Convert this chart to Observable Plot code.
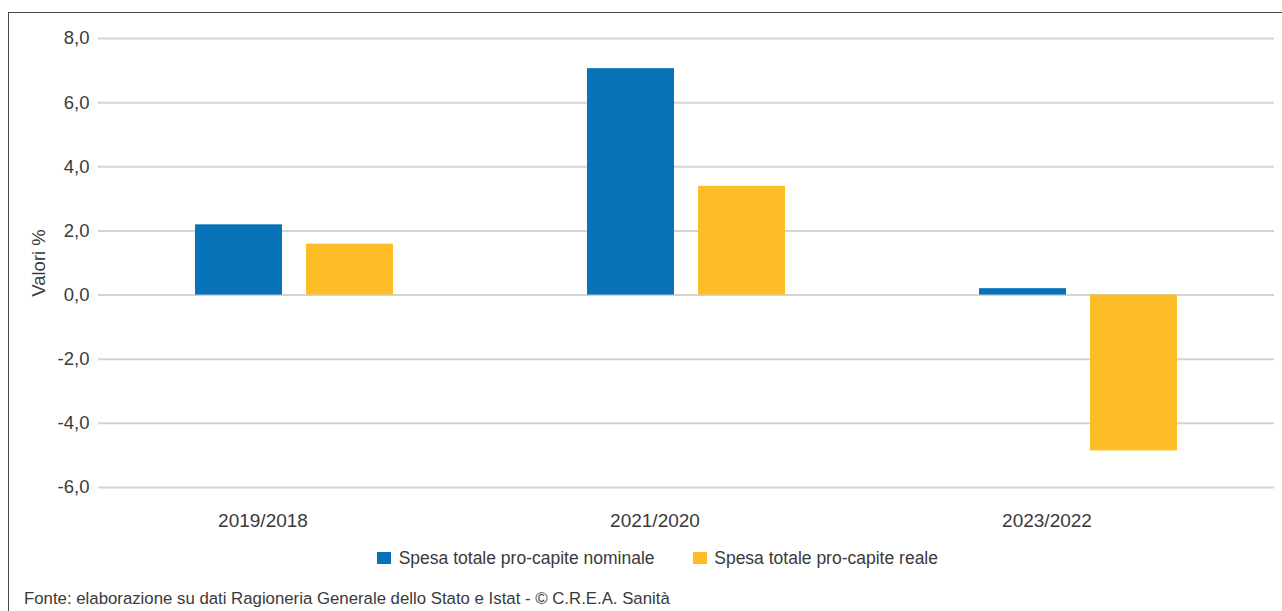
<!DOCTYPE html>
<html>
<head>
<meta charset="utf-8">
<script src="https://cdn.jsdelivr.net/npm/d3@7"></script>
<script src="https://cdn.jsdelivr.net/npm/@observablehq/plot@0.6"></script>
<style>
  html, body { margin: 0; padding: 0; background: #fff; overflow: hidden; }
  #wrap { position: relative; width: 1282px; height: 611px; overflow: hidden;
          font-family: "Liberation Sans", Arial, sans-serif; color: #3a3a3a; }
  #frame { position: absolute; left: 8px; top: 12px; width: 1300px; height: 620px;
           border-top: 1.5px solid #4a4a4a; border-left: 1.5px solid #4a4a4a; }
  #chart { position: absolute; left: 0; top: 0; }
  #legend { position: absolute; left: 377px; top: 548px; display: flex; align-items: center;
            font-size: 17.5px; line-height: 20px; white-space: nowrap; }
  .item { display: flex; align-items: center; margin-right: 38px; }
  .sw { width: 14.4px; height: 11.7px; margin-right: 7.3px; }
  #caption { position: absolute; left: 24px; top: 589px; font-size: 16.8px; line-height: 20px; white-space: nowrap; }
</style>
</head>
<body>
<div id="wrap">
  <div id="frame"></div>
  <div id="chart"></div>
  <div id="legend"></div>
  <div id="caption">Fonte: elaborazione su dati Ragioneria Generale dello Stato e Istat - © C.R.E.A. Sanità</div>
</div>
<script>
const categories = ["2019/2018", "2021/2020", "2023/2022"];
const seriesNames = ["Spesa totale pro-capite nominale", "Spesa totale pro-capite reale"];
const nominale = [2.19, 7.06, 0.20];
const reale = [1.59, 3.39, -4.86];
const seriesColors = ["#0872b9", "#fdbd26"];
const yTicks = [-6, -4, -2, 0, 2, 4, 6, 8];

const data = [];
categories.forEach((c, i) => {
  data.push({cat: c, serie: seriesNames[0], value: nominale[i]});
  data.push({cat: c, serie: seriesNames[1], value: reale[i]});
});

const fmt = d => d.toFixed(1).replace(".", ",");

const chart = Plot.plot({
  width: 1282,
  height: 535,
  marginTop: 38,
  marginBottom: 48,
  marginLeft: 98,
  marginRight: 8,
  style: {fontFamily: '"Liberation Sans", Arial, sans-serif', color: "#3a3a3a", background: "transparent"},
  fx: {domain: categories, padding: 0, label: null},
  x: {domain: seriesNames, paddingInner: 0.215, paddingOuter: 0.863, axis: null},
  y: {domain: [-6, 8], label: null},
  color: {domain: seriesNames, range: seriesColors},
  marks: [
    Plot.ruleY(yTicks, {stroke: "#d4d4d4", strokeWidth: 2}),
    Plot.barY(data, {fx: "cat", x: "serie", y1: 0, y2: "value", fill: "serie"}),
    Plot.axisY({ticks: yTicks, tickSize: 0, tickPadding: 9, tickFormat: fmt, fontSize: 18.5,
                label: "Valori %", labelAnchor: "center", labelArrow: "none", labelOffset: 67}),
    Plot.axisFx({anchor: "bottom", tickSize: 0, tickPadding: 26, dx: -31.5, fontSize: 19, label: null})
  ]
});
document.getElementById("chart").appendChild(chart);

const legend = document.getElementById("legend");
seriesNames.forEach((s, i) => {
  const item = document.createElement("div");
  item.className = "item";
  const sw = document.createElement("span");
  sw.className = "sw";
  sw.style.background = seriesColors[i];
  const t = document.createElement("span");
  t.textContent = s;
  item.appendChild(sw);
  item.appendChild(t);
  legend.appendChild(item);
});
</script>
</body>
</html>
